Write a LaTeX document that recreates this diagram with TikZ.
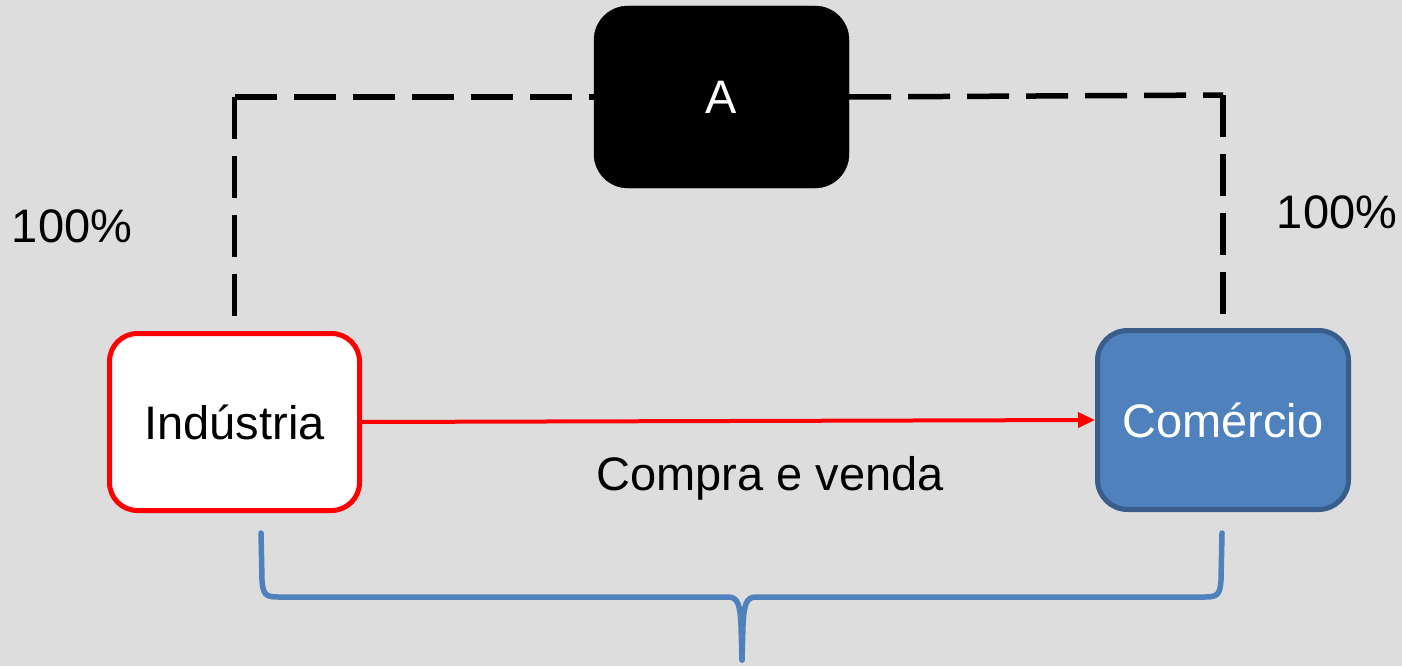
\documentclass[tikz,border=0pt]{standalone}
\usepackage{fontspec}
\setmainfont{Liberation Sans}
\usetikzlibrary{arrows.meta}
\definecolor{bg}{HTML}{DDDDDD}
\definecolor{boxblue}{HTML}{4F81BD}
\definecolor{boxblueborder}{HTML}{3A5E8C}
\definecolor{pure red}{HTML}{FF0000}
\tikzset{
  lbl/.style={font=\fontsize{47}{57}\selectfont, inner sep=0pt},
  blackbox/.style={draw=black, fill=black, rounded corners=34pt, minimum width=255pt, minimum height=182pt, inner sep=0pt, text=white, font=\fontsize{47}{57}\selectfont},
  indbox/.style={draw=pure red, line width=5pt, fill=white, rounded corners=28pt, minimum width=250pt, minimum height=177pt, inner sep=0pt, font=\fontsize{47}{57}\selectfont},
  combox/.style={draw=boxblueborder, line width=5pt, fill=boxblue, rounded corners=30pt, minimum width=251pt, minimum height=179pt, inner sep=0pt, text=white, font=\fontsize{47}{57}\selectfont},
  dashline/.style={draw=black, line width=5.5pt, dash pattern=on 42pt off 17pt},
  redarrow/.style={draw=pure red, line width=4pt, -{Triangle[length=17pt,width=15pt]}},
  bracestyle/.style={draw=boxblue, line width=5.5pt, line cap=round, line join=round},
}
\begin{document}
\begin{tikzpicture}[x=1pt, y=-1pt]
  \fill[bg] (0,0) rectangle (1402,666);
  \useasboundingbox (0,0) rectangle (1402,666);

  \node[blackbox] (A) at (721.5,97) {\raisebox{-3pt}{A}};
  \node[indbox] (ind) at (234.5,422) {Indústria};
  \node[combox] (com) at (1223,420) {Comércio};

  \coordinate (cL) at (234.5,97);
  \coordinate (cR) at (1223,95);

  \draw[dashline] (cL) -- (ind.north);
  \draw[dashline] (cL) -- (A.west);
  \draw[dashline] (cR) -- (com.north);
  \draw[dashline] (A.east) -- (cR);

  \draw[redarrow] (ind.east) -- (com.west);

  \node[lbl] (pL) at (72,226) {100\%};
  \node[lbl] (pR) at (1337,212) {100\%};
  \node[lbl] (cv) at (770,478) {Compra e venda};

  \draw[bracestyle] (261,533) -- (262,580) .. controls (263,594) and (265,597) .. (278,597)
    -- (728,597) .. controls (738,597) and (740,605) .. (741,625) -- (742,660);
  \draw[bracestyle] (1222,533) -- (1221,580) .. controls (1220,594) and (1218,597) .. (1205,597)
    -- (756,597) .. controls (746,597) and (744,605) .. (743,625) -- (742,660);
\end{tikzpicture}
\end{document}
